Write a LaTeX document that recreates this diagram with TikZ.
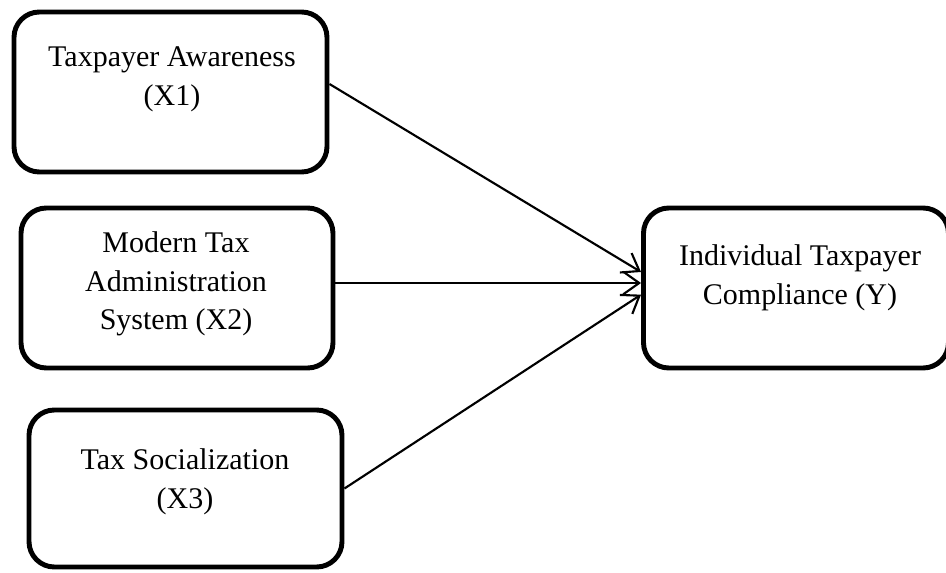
\documentclass[tikz,border=0pt]{standalone}
\usepackage{fontspec}
\setmainfont{Liberation Serif}
\usetikzlibrary{arrows.meta}
\begin{document}
\begin{tikzpicture}[x=0.75pt,y=-0.75pt,
  box/.style={draw=black,line width=3.7pt,rounded corners=19pt,rectangle,inner sep=0pt},
  txt/.style={align=center,font=\fontsize{22.5}{29}\selectfont,inner sep=0pt},
  arr/.style={line width=1.6pt,-{Straight Barb[length=12pt,width=17pt,line width=1.6pt]}}]
\useasboundingbox (0,0) rectangle (946,573);
\node[box,minimum width=234.75pt,minimum height=120pt] (b1) at (170.5,92) {};
\node[box,minimum width=234pt,minimum height=120pt] (b2) at (177,288) {};
\node[box,minimum width=234.75pt,minimum height=117.75pt] (b3) at (185.5,488.5) {};
\node[box,minimum width=228.75pt,minimum height=120pt] (y) at (796,288) {};
\node[txt] (t1) at (172,79) {Taxpayer Awareness\\(X1)};
\node[txt] (t2) at (176,284) {Modern Tax\\Administration\\System (X2)};
\node[txt] (t3) at (185,482) {Tax Socialization\\(X3)};
\node[txt] (ty) at (800,278) {Individual Taxpayer\\Compliance (Y)};
\draw[arr] ([yshift=6pt]b1.east) -- ([yshift=12pt]y.west);
\draw[arr] ([yshift=3.75pt]b2.east) -- ([yshift=3.75pt]y.west);
\draw[arr] (b3.east) -- ([yshift=-5pt]y.west);
\end{tikzpicture}
\end{document}
